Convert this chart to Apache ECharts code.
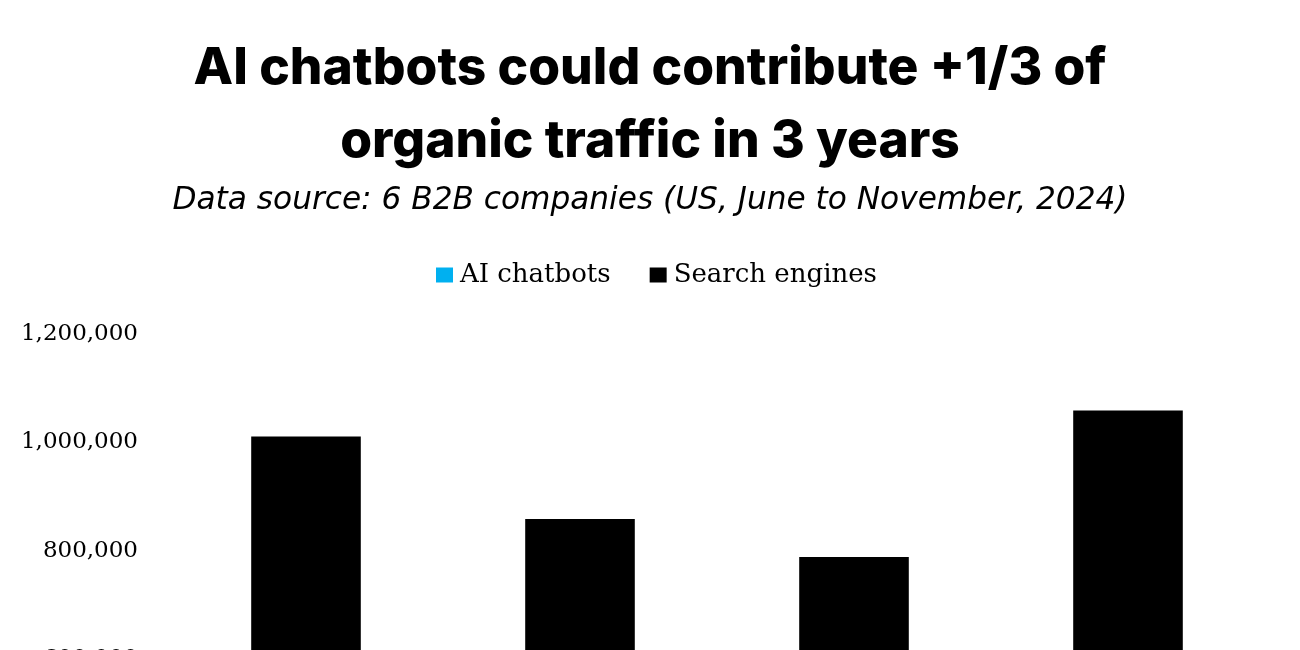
<!DOCTYPE html>
<html>
<head>
<meta charset="utf-8">
<script src="https://cdn.jsdelivr.net/npm/echarts@6/dist/echarts.min.js"></script>
<style>
html,body{margin:0;padding:0;background:#fff;}
#chart{width:1300px;height:650px;}
</style>
</head>
<body>
<div id="chart"></div>
<script>
const categories = ['2024', '2025', '2026', '2027'];
const totalTraffic = [1011000, 859000, 789000, 1059000];
const aiChatbots = [15000, 90000, 180000, 350000];
const searchEngines = totalTraffic.map((t, i) => t - aiChatbots[i]);

const chart = echarts.init(document.getElementById('chart'));
chart.setOption({
  backgroundColor: '#ffffff',
  animation: false,
  title: [
    {
      text: 'AI chatbots could contribute +1/3 of',
      left: 'center',
      top: 38,
      textStyle: {
        fontFamily: 'Inter, "Noto Sans", sans-serif',
        fontWeight: 800,
        fontSize: 51.5,
        color: '#000'
      }
    },
    {
      text: 'organic traffic in 3 years',
      left: 'center',
      top: 111,
      textStyle: {
        fontFamily: 'Inter, "Noto Sans", sans-serif',
        fontWeight: 800,
        fontSize: 51.5,
        color: '#000'
      }
    },
    {
      text: 'Data source: 6 B2B companies (US, June to November, 2024)',
      left: 'center',
      top: 180,
      textStyle: {
        fontFamily: '"DejaVu Sans", sans-serif',
        fontStyle: 'italic',
        fontWeight: 300,
        fontSize: 31.2,
        color: '#000'
      }
    }
  ],
  legend: {
    top: 257,
    left: 431,
    itemWidth: 17,
    itemHeight: 15,
    itemGap: 39,
    icon: 'rect',
    textStyle: {
      fontFamily: '"DejaVu Serif", serif',
      fontSize: 26,
      color: '#000',
      padding: [0, 0, 0, 2]
    },
    data: ['AI chatbots', 'Search engines']
  },
  grid: {
    left: 169,
    right: 35,
    top: 334,
    height: 651,
    containLabel: false,
    outerBoundsMode: 'none'
  },
  xAxis: {
    type: 'category',
    data: categories,
    axisLine: { show: true, lineStyle: { color: '#d9d9d9' } },
    axisTick: { show: false },
    axisLabel: { fontFamily: '"DejaVu Serif", serif', fontSize: 23, color: '#000' }
  },
  yAxis: {
    type: 'value',
    min: 0,
    max: 1200000,
    interval: 200000,
    axisLine: { show: false },
    axisTick: { show: false },
    splitLine: { show: false },
    axisLabel: {
      margin: 31,
      fontFamily: '"DejaVu Serif", serif',
      fontSize: 23,
      color: '#000',
      formatter: v => v.toLocaleString('en-US')
    }
  },
  series: [
    {
      name: 'AI chatbots',
      type: 'bar',
      stack: 'traffic',
      barWidth: '40%',
      itemStyle: { color: '#00b0f0' },
      data: aiChatbots
    },
    {
      name: 'Search engines',
      type: 'bar',
      stack: 'traffic',
      barWidth: '40%',
      itemStyle: { color: '#000000' },
      data: searchEngines
    }
  ]
});
</script>
</body>
</html>
